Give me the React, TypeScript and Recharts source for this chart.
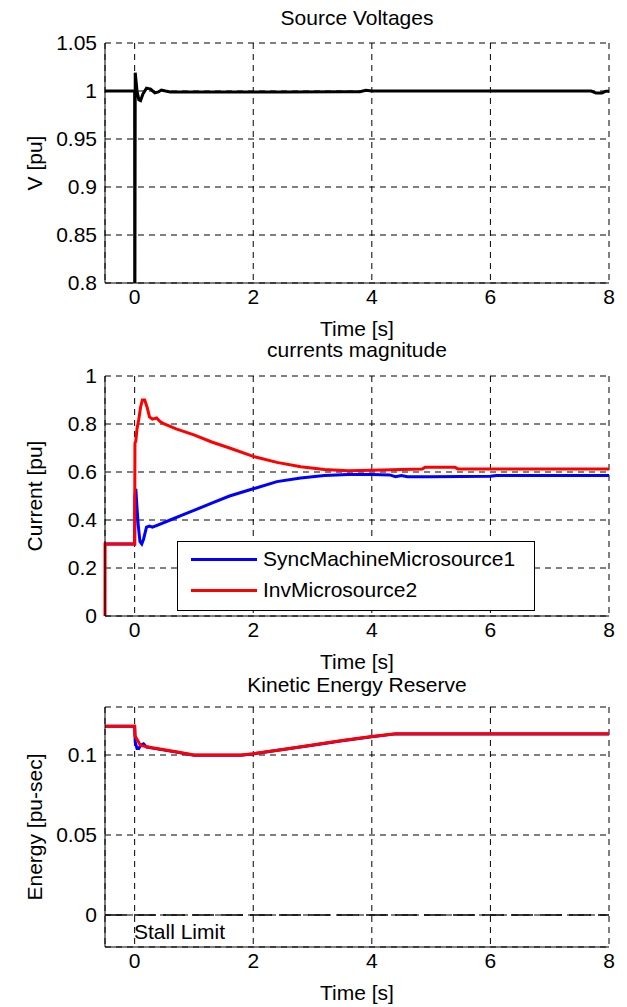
import { LineChart, Line, XAxis, YAxis, CartesianGrid, ReferenceLine, Legend } from "recharts";

const FONT = '"Liberation Sans", Arial, Helvetica, sans-serif';
const FS = 21;
const GRID_DASH = "6 5";

const X_TICKS = [0, 2, 4, 6, 8];
const X_DOMAIN = [-0.5, 8];

// Source voltages
const voltT = [-0.5, 0, 0.002, 0.01, 0.04, 0.07, 0.1, 0.14, 0.2, 0.27, 0.34, 0.4, 0.45, 0.52, 0.6, 1.5, 2.5, 3.5, 3.8, 3.9, 4.0, 5, 6, 7, 7.7, 7.78, 7.88, 7.95, 8];
const voltV = [1, 1, 0.7, 1.019, 1.0, 0.991, 0.99, 0.997, 1.003, 1.002, 0.998, 0.999, 1.001, 1.0, 0.999, 0.999, 0.999, 0.9993, 0.9993, 1.0008, 1.0, 1.0, 1.0, 1.0, 1.0, 0.998, 0.998, 0.9998, 0.9998];
const voltTicks = [0.8, 0.85, 0.9, 0.95, 1, 1.05];

// currents magnitude
const SERIES_ORDER = ["SyncMachineMicrosource1", "InvMicrosource2"];
const syncT = [-0.5, 0, 0.005, 0.02, 0.04, 0.06, 0.09, 0.12, 0.15, 0.2, 0.25, 0.3, 0.4, 0.6, 0.8, 1.0, 1.3, 1.6, 2.0, 2.4, 2.8, 3.2, 3.6, 4.0, 4.3, 4.4, 4.5, 4.6, 4.7, 5, 6, 6.1, 7, 8];
const syncI = [0.3, 0.3, 0.5, 0.53, 0.45, 0.38, 0.31, 0.3, 0.32, 0.37, 0.375, 0.37, 0.38, 0.4, 0.42, 0.44, 0.47, 0.5, 0.53, 0.56, 0.575, 0.585, 0.59, 0.59, 0.588, 0.58, 0.585, 0.58, 0.58, 0.58, 0.582, 0.585, 0.585, 0.585];
const invT = [-0.5, -0.499, 0, 0.005, 0.02, 0.04, 0.07, 0.1, 0.13, 0.17, 0.21, 0.25, 0.3, 0.37, 0.43, 0.5, 0.7, 1.0, 1.3, 1.6, 2.0, 2.4, 2.8, 3.2, 3.6, 4.0, 4.5, 4.85, 4.9, 5.4, 5.45, 6, 7, 8];
const invI = [0, 0.3, 0.3, 0.72, 0.73, 0.78, 0.82, 0.87, 0.9, 0.9, 0.87, 0.83, 0.82, 0.825, 0.81, 0.8, 0.78, 0.755, 0.725, 0.7, 0.665, 0.64, 0.622, 0.61, 0.605, 0.607, 0.61, 0.612, 0.62, 0.62, 0.613, 0.612, 0.612, 0.612];
const currTicks = [0, 0.2, 0.4, 0.6, 0.8, 1];

// Kinetic energy reserve
const keSyncT = [-0.5, 0, 0.01, 0.04, 0.07, 0.1, 0.15, 0.2, 0.3, 0.7, 1.0, 1.8, 2.0, 2.5, 3.0, 3.5, 4.0, 4.4, 8];
const keSyncE = [0.118, 0.118, 0.108, 0.104, 0.104, 0.106, 0.107, 0.105, 0.1043, 0.1018, 0.0998, 0.0998, 0.1007, 0.1034, 0.1061, 0.1089, 0.1114, 0.1132, 0.1132];
const keInvT = [-0.5, 0, 0.005, 0.1, 0.3, 0.7, 1.0, 1.8, 2.0, 2.5, 3.0, 3.5, 4.0, 4.4, 8];
const keInvE = [0.118, 0.118, 0.112, 0.106, 0.1045, 0.102, 0.1, 0.1, 0.1008, 0.1035, 0.1062, 0.109, 0.1115, 0.1133, 0.1133];
const keTicks = [0, 0.05, 0.1];

const zip = (t: number[], v: number[]) => t.map((x, i) => ({ t: x, v: v[i] }));

const tickStyle = { fill: "#000", fontSize: FS, fontFamily: FONT };

function Caption({ text, cx, cy, rotate }: { text: string; cx: number; cy: number; rotate?: boolean }) {
  return (
    <div
      style={{
        position: "absolute",
        left: cx - 200,
        top: cy - 12,
        width: 400,
        height: 24,
        lineHeight: "24px",
        textAlign: "center",
        fontFamily: FONT,
        fontSize: FS,
        color: "#000",
        transform: rotate ? "rotate(-90deg)" : undefined,
        whiteSpace: "nowrap",
      }}
    >
      {text}
    </div>
  );
}

function xAxis(height: number) {
  return (
    <XAxis
      type="number"
      dataKey="t"
      domain={X_DOMAIN}
      ticks={X_TICKS}
      interval={0}
      height={height}
      tick={tickStyle}
      tickLine={false}
      tickSize={0}
      tickMargin={6}
      axisLine={{ stroke: "#000" }}
      allowDuplicatedCategory={false}
    />
  );
}

function yAxis(domain: number[], ticks: number[]) {
  return (
    <YAxis
      type="number"
      domain={domain}
      ticks={ticks}
      interval={0}
      width={105}
      allowDataOverflow
      tick={tickStyle}
      tickLine={false}
      tickSize={0}
      tickMargin={8}
      axisLine={{ stroke: "#000" }}
    />
  );
}

const LegendBox = ({ payload }: any) => {
  const items = [...(payload || [])].sort(
    (a: any, b: any) => SERIES_ORDER.indexOf(a.value) - SERIES_ORDER.indexOf(b.value)
  );
  return (
    <div
      style={{
        position: "relative",
        width: 358,
        height: 70,
        boxSizing: "border-box",
        border: "1px solid #000",
        background: "#fff",
        fontFamily: FONT,
        fontSize: FS,
      }}
    >
      {items.map((p: any, i: number) => (
        <div key={i} style={{ position: "absolute", left: 0, top: 5 + i * 31, height: 24, width: 356 }}>
          <div style={{ position: "absolute", left: 13, top: 11, width: 66, height: 3, background: p.color }} />
          <div style={{ position: "absolute", left: 85, top: 0, lineHeight: "24px", whiteSpace: "nowrap" }}>{p.value}</div>
        </div>
      ))}
    </div>
  );
};

export default function App() {
  return (
    <div style={{ position: "absolute", left: 0, top: 0, width: 627, height: 1007, background: "#fff" }}>
      <div style={{ position: "absolute", left: 0, top: 0 }}>
        <LineChart width={627} height={350} margin={{ top: 43, right: 18, bottom: 0, left: 0 }}>
          <CartesianGrid stroke="#000" strokeDasharray={GRID_DASH} />
          {xAxis(67)}
          {yAxis([0.8, 1.05], voltTicks)}
          <Line data={zip(voltT, voltV)} dataKey="v" type="linear" stroke="#000" strokeWidth={3} dot={false} isAnimationActive={false} />
        </LineChart>
      </div>

      <div style={{ position: "absolute", left: 0, top: 350 }}>
        <LineChart width={627} height={330} margin={{ top: 26, right: 18, bottom: 0, left: 0 }}>
          <CartesianGrid stroke="#000" strokeDasharray={GRID_DASH} />
          {xAxis(64)}
          {yAxis([0, 1], currTicks)}
          <Line name="SyncMachineMicrosource1" data={zip(syncT, syncI)} dataKey="v" type="linear" stroke="#0000ff" strokeWidth={3} dot={false} isAnimationActive={false} />
          <Line name="InvMicrosource2" data={zip(invT, invI)} dataKey="v" type="linear" stroke="#ff0000" strokeWidth={3} dot={false} isAnimationActive={false} />
          <Legend
            layout="vertical"
            align="center"
            verticalAlign="middle"
            content={<LegendBox />}
            wrapperStyle={{ position: "absolute", left: 177, top: 191, width: 358, height: 70 }}
          />
        </LineChart>
      </div>

      <div style={{ position: "absolute", left: 0, top: 680 }}>
        <LineChart width={627} height={327} margin={{ top: 27, right: 18, bottom: 0, left: 0 }}>
          <CartesianGrid stroke="#000" strokeDasharray={GRID_DASH} />
          {xAxis(60)}
          {yAxis([-0.02, 0.13], keTicks)}
          <ReferenceLine y={0} stroke="#000" strokeWidth={1.5} strokeDasharray="22 7" />
          <Line data={zip(keSyncT, keSyncE)} dataKey="v" type="linear" stroke="#0000ff" strokeWidth={3} dot={false} isAnimationActive={false} />
          <Line data={zip(keInvT, keInvE)} dataKey="v" type="linear" stroke="#ff0000" strokeWidth={3} dot={false} isAnimationActive={false} />
        </LineChart>
      </div>

      <Caption text="Source Voltages" cx={357} cy={18} />
      <Caption text="Time [s]" cx={357} cy={329} />
      <Caption text="V [pu]" cx={35} cy={163} rotate />

      <Caption text="currents magnitude" cx={357} cy={350} />
      <Caption text="Time [s]" cx={357} cy={662} />
      <Caption text="Current [pu]" cx={35} cy={496} rotate />

      <Caption text="Kinetic Energy Reserve" cx={357} cy={685} />
      <Caption text="Time [s]" cx={357} cy={993} />
      <Caption text="Energy [pu-sec]" cx={35} cy={827} rotate />

      <div style={{ position: "absolute", left: 134, top: 920, lineHeight: "24px", fontFamily: FONT, fontSize: FS, whiteSpace: "nowrap" }}>
        Stall Limit
      </div>
    </div>
  );
}
